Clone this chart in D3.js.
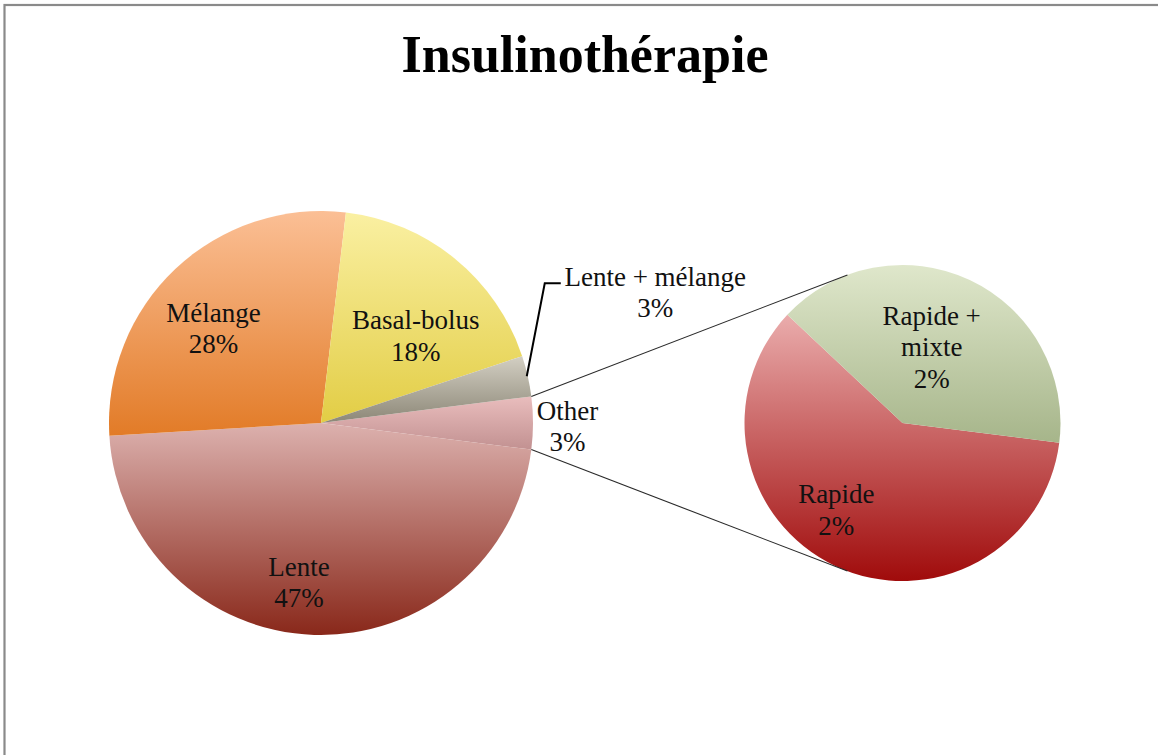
<!DOCTYPE html>
<html>
<head>
<meta charset="utf-8">
<script src="https://cdn.jsdelivr.net/npm/d3@7"></script>
<style>
  html, body { margin: 0; padding: 0; background: #fff; }
  svg { display: block; }
</style>
</head>
<body>
<svg id="chart" width="1158" height="755"></svg>
<script>
// ---- data ----
const title = "Insulinothérapie";
const mainCategories = ["Other", "Lente", "Mélange", "Basal-bolus", "Lente + mélange"];
const mainValues     = [null, 47.0, 27.8, 18.0, 3.1];          // Other = sum of secondary
const mainLabels     = ["3%", "47%", "28%", "18%", "3%"];
const subCategories  = ["Rapide", "Rapide + mixte"];
const subValues      = [2.4, 1.6];
const subLabels      = ["2%", "2%"];

// ---- styles ----
const mainColors = {
  "Other":           ["#e9bdbd", "#c29191"],
  "Lente":           ["#dcb1ae", "#89281a"],
  "Mélange":         ["#fbbf95", "#e27b27"],
  "Basal-bolus":     ["#faf0a2", "#e2cd45"],
  "Lente + mélange": ["#d3cfc3", "#8c8777"]
};
const subColors = {
  "Rapide":          ["#eaacac", "#a00b0b"],
  "Rapide + mixte":  ["#dfe7cb", "#a6b58a"]
};
const FONT = "'Liberation Serif', 'Times New Roman', serif";

const svg = d3.select("#chart");
const W = 1158, H = 755;

// frame
svg.append("rect").attr("x", 4.5).attr("y", 5).attr("width", W + 20).attr("height", H + 20)
  .attr("fill", "#fff").attr("stroke", "#8a8a8a").attr("stroke-width", 2.2);

// title
svg.append("text").attr("x", 585).attr("y", 72).attr("text-anchor", "middle")
  .attr("font-family", FONT).attr("font-weight", "bold").attr("font-size", 52)
  .attr("fill", "#000").text(title);

const defs = svg.append("defs");
function grad(id, c) {
  const g = defs.append("linearGradient").attr("id", id)
    .attr("x1", 0).attr("y1", 0).attr("x2", 0).attr("y2", 1);
  g.append("stop").attr("offset", "0%").attr("stop-color", c[0]);
  g.append("stop").attr("offset", "100%").attr("stop-color", c[1]);
  return `url(#${id})`;
}

const deg = Math.PI / 180;
const otherValue = d3.sum(subValues);
const mainData = mainCategories.map((c, i) => ({
  name: c, value: c === "Other" ? otherValue : mainValues[i], label: mainLabels[i]
}));
const total = d3.sum(mainData, d => d.value);
const otherSpan = otherValue / total * 2 * Math.PI;

// ---- main pie ----
const M = { cx: 321, cy: 423, r: 212 };
const mainPie = d3.pie().sort(null).value(d => d.value)
  .startAngle(Math.PI / 2 - otherSpan / 2).endAngle(Math.PI / 2 - otherSpan / 2 + 2 * Math.PI);
const mainArcs = mainPie(mainData);
const arc = d3.arc().innerRadius(0).outerRadius(M.r);
const gMain = svg.append("g").attr("transform", `translate(${M.cx},${M.cy})`);
gMain.selectAll("path").data(mainArcs).enter().append("path")
  .attr("d", arc)
  .attr("fill", (d, i) => grad("gm" + i, mainColors[d.data.name]));

// ---- secondary pie ----
const S = { cx: 902.5, cy: 423, r: 158 };
const subData = subCategories.map((c, i) => ({ name: c, value: subValues[i], label: subLabels[i] }));
const subStart = 97.2 * deg;
const subPie = d3.pie().sort(null).value(d => d.value)
  .startAngle(subStart).endAngle(subStart + 2 * Math.PI);
const subArcs = subPie(subData);
const sArc = d3.arc().innerRadius(0).outerRadius(S.r);
const gSub = svg.append("g").attr("transform", `translate(${S.cx},${S.cy})`);
gSub.selectAll("path").data(subArcs).enter().append("path")
  .attr("d", sArc)
  .attr("fill", (d, i) => grad("gs" + i, subColors[d.data.name]));

// ---- connector lines ----
const pol = (c, r, a) => [c.cx + r * Math.sin(a), c.cy - r * Math.cos(a)];
const otherArc = mainArcs[0];
const connAngle = 20.4 * deg;
const conns = [
  [pol(M, M.r, otherArc.startAngle), pol(S, S.r, -connAngle)],
  [pol(M, M.r, otherArc.endAngle), pol(S, S.r, Math.PI + connAngle)]
];
svg.selectAll("line.conn").data(conns).enter().append("line").attr("class", "conn")
  .attr("x1", d => d[0][0]).attr("y1", d => d[0][1])
  .attr("x2", d => d[1][0]).attr("y2", d => d[1][1])
  .attr("stroke", "#2a2a2a").attr("stroke-width", 1.1);

// ---- labels ----
const FS = 27, LH = 31.5;
function multiLabel(g, x, y, lines, anchor) {
  // y = vertical centre of the block
  const n = lines.length;
  const firstBase = y - (n - 1) * LH / 2 + FS * 0.33;
  const t = g.append("text").attr("font-family", FONT).attr("font-size", FS)
    .attr("fill", "#111").attr("text-anchor", anchor || "middle");
  lines.forEach((l, i) => t.append("tspan").attr("x", x).attr("y", firstBase + i * LH).text(l));
}

const labelArc = d3.arc().innerRadius(M.r * 0.65).outerRadius(M.r * 0.65);
const mainInside = { "Mélange": [-13, 5.6], "Basal-bolus": [7.6, 20], "Lente": [-17.5, 22] };
mainArcs.forEach(d => {
  const n = d.data.name;
  if (mainInside[n]) {
    const c = labelArc.centroid(d);
    multiLabel(svg, M.cx + c[0] + mainInside[n][0], M.cy + c[1] + mainInside[n][1], [n, d.data.label]);
  }
});

// Other label (outside, right of slice)
{
  const d = mainArcs[0];
  const mid = (d.startAngle + d.endAngle) / 2;
  const p = pol(M, M.r, mid);
  multiLabel(svg, p[0] + 34.5, p[1] + 3.8, [d.data.name, d.data.label]);
}
// Lente + mélange label with leader line
{
  const d = mainArcs[4];
  const mid = (d.startAngle + d.endAngle) / 2;
  const p = pol(M, M.r - 1, mid);
  const elbow = [p[0] + 18, p[1] - 93];
  const end = [elbow[0] + 16, elbow[1]];
  svg.append("path").attr("d", d3.line()([p, elbow, end]))
    .attr("fill", "none").attr("stroke", "#000").attr("stroke-width", 2);
  multiLabel(svg, end[0] + 94.5, elbow[1] + 9.4, [d.data.name, d.data.label]);
}

// secondary labels
const subLabelArc = d3.arc().innerRadius(S.r * 0.65).outerRadius(S.r * 0.65);
const subOffsets = { "Rapide": [-22.4, -5.6], "Rapide + mixte": [-14.6, 17.3] };
const subLines = { "Rapide": ["Rapide"], "Rapide + mixte": ["Rapide +", "mixte"] };
subArcs.forEach(d => {
  const n = d.data.name;
  const c = subLabelArc.centroid(d);
  multiLabel(svg, S.cx + c[0] + subOffsets[n][0], S.cy + c[1] + subOffsets[n][1],
    subLines[n].concat([d.data.label]));
});
</script>
</body>
</html>
